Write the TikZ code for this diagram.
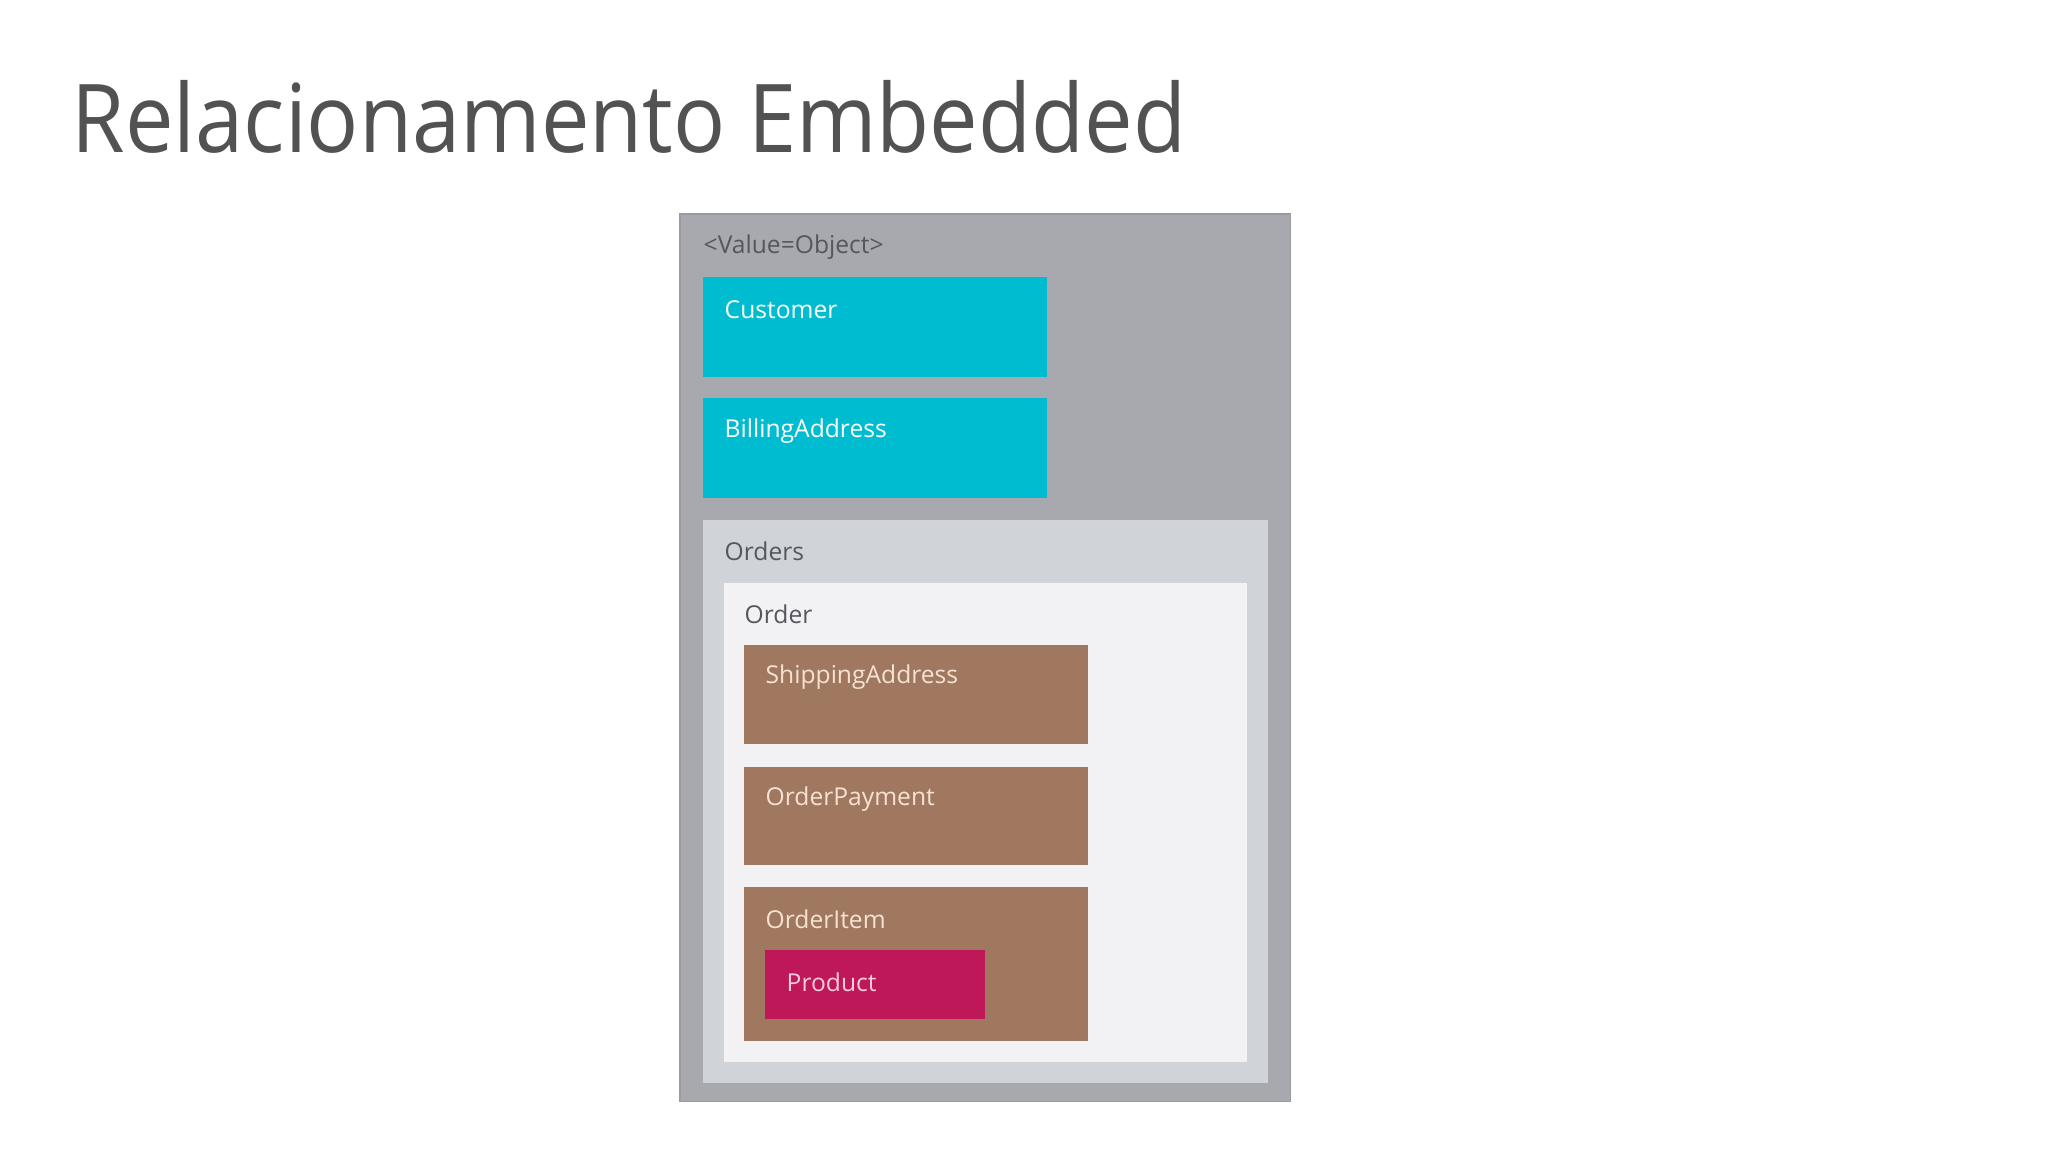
\documentclass[tikz,border=0pt]{standalone}
\usepackage{fontspec}
\setmainfont{Open Sans}
\usetikzlibrary{positioning}

\definecolor{titlegray}{HTML}{525252}
\definecolor{outergray}{HTML}{A7A9AE}
\definecolor{ordersgray}{HTML}{D0D3D8}
\definecolor{ordergray}{HTML}{F2F2F4}
\definecolor{cyanbox}{HTML}{00BCD0}
\definecolor{brownbox}{HTML}{A07860}
\definecolor{magentabox}{HTML}{BE1858}
\definecolor{peachtext}{HTML}{F6E2D2}
\definecolor{pinktext}{HTML}{F8CCE0}
\definecolor{labelgray}{HTML}{55575C}

\begin{document}
\begin{tikzpicture}[x=0.01cm, y=-0.01cm,
    box/.style={anchor=north west, inner sep=0pt, outer sep=0pt},
    lbl/.style={anchor=west, inner sep=0pt, font=\fontsize{7}{8}\selectfont}]
    \useasboundingbox [fill=white] (0,0) rectangle (2048,1152);

    % title
    \node [anchor=base west, inner sep=0pt, text=titlegray,
           font=\fontsize{27}{32}\selectfont] (title) at (71,153) {\scalebox{0.912}[1]{Relacionamento Embedded}};

    % value object
    \node [box, fill=outergray, draw=outergray!92!black, line width=0.3pt,
           minimum width=6.10cm, minimum height=8.87cm] (value) at (680,214) {};
    \node [lbl, text=labelgray] (valuetxt) at ([xshift=0.23cm, yshift=-0.33cm]value.north west) {<Value=Object>};

    \node [box, fill=cyanbox, minimum width=3.44cm, minimum height=1.00cm] (customer) at (703,277) {};
    \node [lbl, text=white] (customertxt) at ([xshift=0.21cm, yshift=-0.33cm]customer.north west) {Customer};

    \node [box, fill=cyanbox, minimum width=3.44cm, minimum height=1.00cm] (billing) at (703,398) {};
    \node [lbl, text=white] (billingtxt) at ([xshift=0.21cm, yshift=-0.33cm]billing.north west) {BillingAddress};

    % orders
    \node [box, fill=ordersgray, minimum width=5.65cm, minimum height=5.63cm] (orders) at (703,520) {};
    \node [lbl, text=labelgray] (orderstxt) at ([xshift=0.21cm, yshift=-0.31cm]orders.north west) {Orders};

    \node [box, fill=ordergray, minimum width=5.23cm, minimum height=4.79cm] (order) at (724,583) {};
    \node [lbl, text=labelgray] (ordertxt) at ([xshift=0.20cm, yshift=-0.31cm]order.north west) {Order};

    \node [box, fill=brownbox, minimum width=3.44cm, minimum height=0.99cm] (shipping) at (744,645) {};
    \node [lbl, text=peachtext] (shippingtxt) at ([xshift=0.21cm, yshift=-0.32cm]shipping.north west) {ShippingAddress};

    \node [box, fill=brownbox, minimum width=3.44cm, minimum height=0.98cm] (payment) at (744,767) {};
    \node [lbl, text=peachtext] (paymenttxt) at ([xshift=0.21cm, yshift=-0.32cm]payment.north west) {OrderPayment};

    \node [box, fill=brownbox, minimum width=3.44cm, minimum height=1.54cm] (item) at (744,887) {};
    \node [lbl, text=peachtext] (itemtxt) at ([xshift=0.21cm, yshift=-0.32cm]item.north west) {OrderItem};

    \node [box, fill=magentabox, minimum width=2.20cm, minimum height=0.69cm] (product) at (765,950) {};
    \node [lbl, text=pinktext] (producttxt) at ([xshift=0.21cm, yshift=-0.32cm]product.north west) {Product};
\end{tikzpicture}
\end{document}
